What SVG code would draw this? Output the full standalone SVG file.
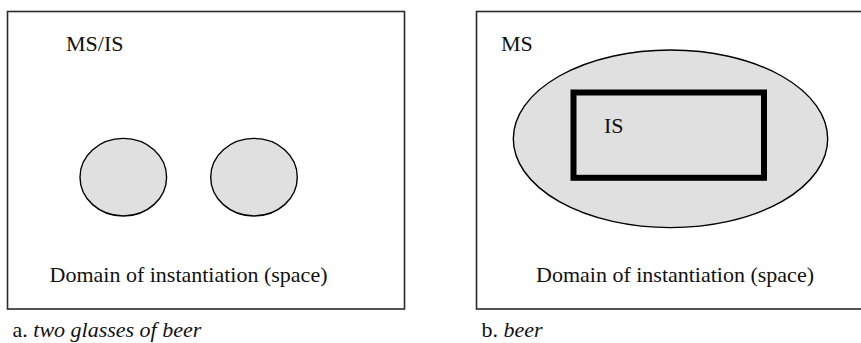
<svg xmlns="http://www.w3.org/2000/svg" width="861" height="343" viewBox="0 0 861 343">
  <style>
    .frame { fill: #ffffff; stroke: #2b2b2b; stroke-width: 1.6; }
    .blob { fill: #e0e0e0; stroke: #000000; stroke-width: 1.4; }
    .inst { fill: none; stroke: #000000; stroke-width: 6; }
    .lbl { font-family: 'Liberation Serif', 'DejaVu Serif', serif; font-size: 22px; fill: #111111; }
    .it { font-style: italic; }
  </style>
  <rect width="861" height="343" fill="#ffffff"/>

  <!-- panel a: two separate instances -->
  <g id="panel-a">
    <rect class="frame" x="7.5" y="11.5" width="397" height="297.5"/>
    <text class="lbl" x="66" y="50.5">MS/IS</text>
    <text class="lbl" x="49.5" y="281.5">Domain of instantiation (space)</text>
  </g>
  <g id="glass-1">
    <ellipse class="blob" cx="123.3" cy="177.2" rx="43.3" ry="38.8"/>
  </g>
  <g id="glass-2">
    <ellipse class="blob" cx="254" cy="177.2" rx="43.3" ry="38.8"/>
  </g>
  <g id="caption-a">
    <text class="lbl" x="12.5" y="337">a. <tspan class="it">two glasses of beer</tspan></text>
  </g>

  <!-- panel b: mass, instance bounded within the maximal extension -->
  <g id="panel-b">
    <rect class="frame" x="476.5" y="11.5" width="390" height="297.5"/>
    <text class="lbl" x="501" y="50.5">MS</text>
    <text class="lbl" x="536" y="281.5">Domain of instantiation (space)</text>
  </g>
  <g id="mass">
    <ellipse class="blob" cx="670.5" cy="138.8" rx="157.2" ry="88.8"/>
  </g>
  <g id="instance">
    <rect class="inst" x="573.5" y="92.5" width="190.5" height="85.3"/>
    <text class="lbl" x="604" y="133.3">IS</text>
  </g>
  <g id="caption-b">
    <text class="lbl" x="481.5" y="337">b. <tspan class="it">beer</tspan></text>
  </g>

  <g id="connectors"/>
</svg>
